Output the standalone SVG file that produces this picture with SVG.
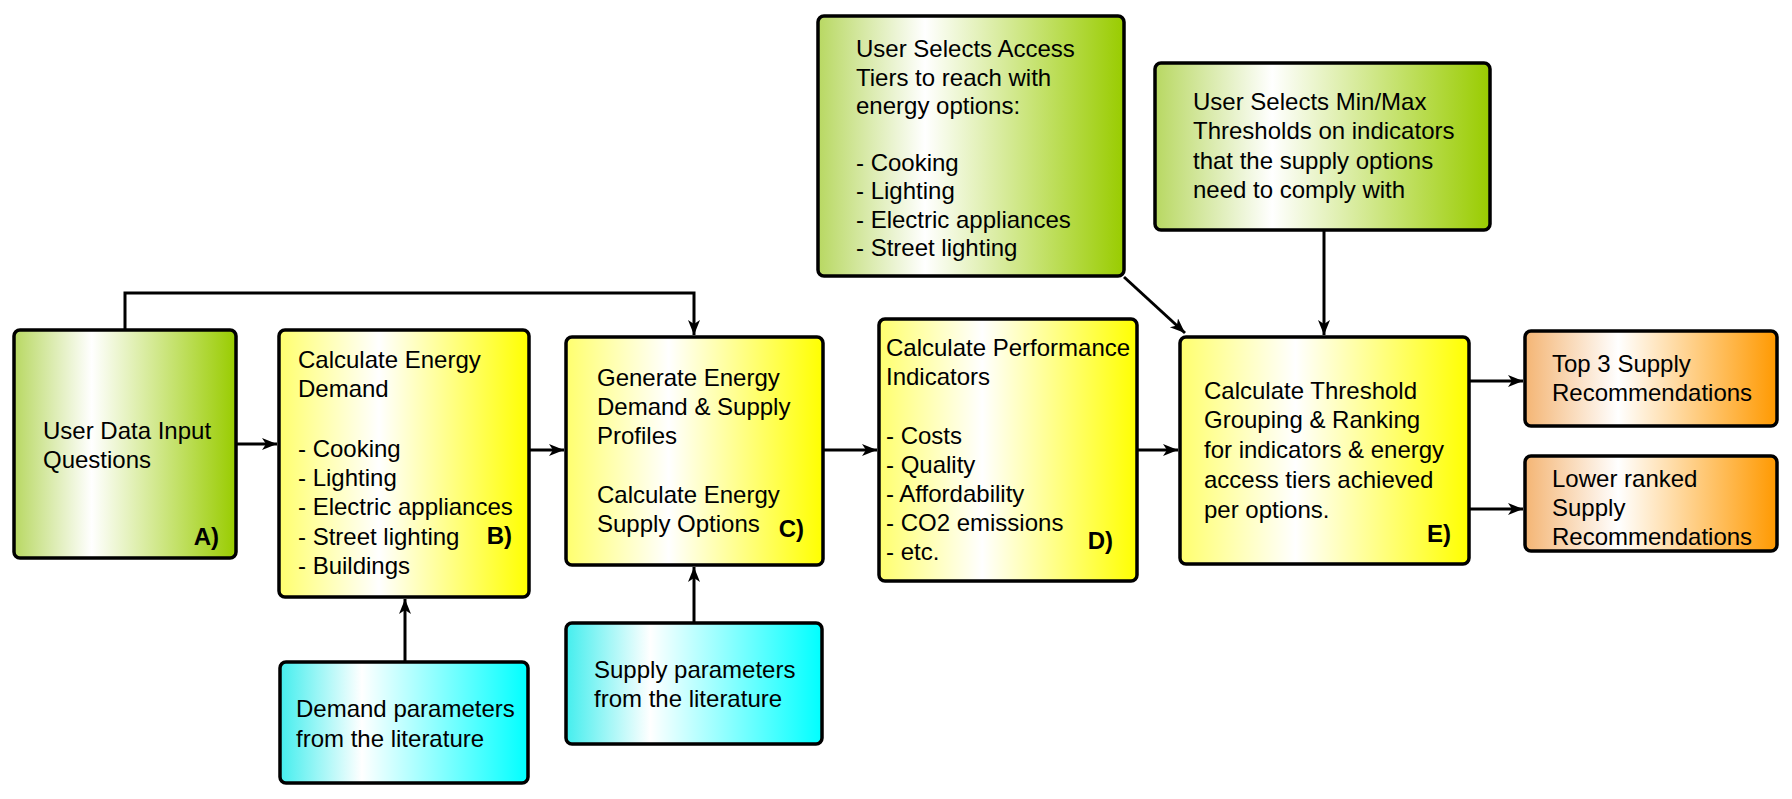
<svg xmlns="http://www.w3.org/2000/svg" width="1792" height="799" viewBox="0 0 1792 799">
<defs>
<linearGradient id="gGreen" x1="0" y1="0" x2="1" y2="0"><stop offset="0" stop-color="#b8d862"/><stop offset="0.35" stop-color="#ffffff"/><stop offset="1" stop-color="#99cc00"/></linearGradient>
<linearGradient id="gYellow" x1="0" y1="0" x2="1" y2="0"><stop offset="0" stop-color="#ffff6e"/><stop offset="0.4" stop-color="#ffffff"/><stop offset="1" stop-color="#ffff00"/></linearGradient>
<linearGradient id="gCyan" x1="0" y1="0" x2="1" y2="0"><stop offset="0" stop-color="#44eeee"/><stop offset="0.33" stop-color="#ffffff"/><stop offset="1" stop-color="#00ffff"/></linearGradient>
<linearGradient id="gOrange" x1="0" y1="0" x2="1" y2="0"><stop offset="0" stop-color="#f4b574"/><stop offset="0.37" stop-color="#ffffff"/><stop offset="1" stop-color="#ff9900"/></linearGradient>
<marker id="arr" markerUnits="userSpaceOnUse" markerWidth="18" markerHeight="14" refX="15" refY="6" orient="auto"><path d="M0,0 L15,6 L0,12 L4,6 z" fill="#000"/></marker>
</defs>
<style>
.box{stroke:#000;stroke-width:3.5}
.t{font-family:"Liberation Sans",Arial,sans-serif;font-size:24px;fill:#000}
.b{font-family:"Liberation Sans",Arial,sans-serif;font-size:24px;font-weight:bold;fill:#000;text-anchor:end}
.c{fill:none;stroke:#000;stroke-width:3;marker-end:url(#arr)}
</style>
<g id="connectors">
<path class="c" d="M125,330 V293 H694 V335"/>
<path class="c" d="M236,444 H277"/>
<path class="c" d="M529,450 H564"/>
<path class="c" d="M823,450 H877"/>
<path class="c" d="M1137,450 H1178"/>
<path class="c" d="M1124,277 L1185,333"/>
<path class="c" d="M1324,230 V335"/>
<path class="c" d="M1469,381 H1523"/>
<path class="c" d="M1469,509 H1523"/>
<path class="c" d="M405,662 V599"/>
<path class="c" d="M694,623 V567"/>
</g>
<g id="nodeA">
<rect class="box" x="14" y="330" width="222" height="228" rx="6" fill="url(#gGreen)"/>
<text class="t" x="43" y="439">User Data Input</text>
<text class="t" x="43" y="468">Questions</text>
<text class="b" x="219" y="545">A)</text>
</g>
<g id="nodeB">
<rect class="box" x="279" y="330" width="250" height="267" rx="6" fill="url(#gYellow)"/>
<text class="t" x="298" y="368">Calculate Energy</text>
<text class="t" x="298" y="397">Demand</text>
<text class="t" x="298" y="457">- Cooking</text>
<text class="t" x="298" y="486">- Lighting</text>
<text class="t" x="298" y="515">- Electric appliances</text>
<text class="t" x="298" y="545">- Street lighting</text>
<text class="t" x="298" y="574">- Buildings</text>
<text class="b" x="512" y="544">B)</text>
</g>
<g id="nodeC">
<rect class="box" x="566" y="337" width="257" height="228" rx="6" fill="url(#gYellow)"/>
<text class="t" x="597" y="386">Generate Energy</text>
<text class="t" x="597" y="415">Demand &amp; Supply</text>
<text class="t" x="597" y="444">Profiles</text>
<text class="t" x="597" y="503">Calculate Energy</text>
<text class="t" x="597" y="532">Supply Options</text>
<text class="b" x="804" y="537">C)</text>
</g>
<g id="nodeD">
<rect class="box" x="879" y="319" width="258" height="262" rx="6" fill="url(#gYellow)"/>
<text class="t" x="886" y="356">Calculate Performance</text>
<text class="t" x="886" y="385">Indicators</text>
<text class="t" x="886" y="444">- Costs</text>
<text class="t" x="886" y="473">- Quality</text>
<text class="t" x="886" y="502">- Affordability</text>
<text class="t" x="886" y="531">- CO2 emissions</text>
<text class="t" x="886" y="560">- etc.</text>
<text class="b" x="1113" y="549">D)</text>
</g>
<g id="nodeE">
<rect class="box" x="1180" y="337" width="289" height="227" rx="6" fill="url(#gYellow)"/>
<text class="t" x="1204" y="399">Calculate Threshold</text>
<text class="t" x="1204" y="428">Grouping &amp; Ranking</text>
<text class="t" x="1204" y="458">for indicators &amp; energy</text>
<text class="t" x="1204" y="488">access tiers achieved</text>
<text class="t" x="1204" y="518">per options.</text>
<text class="b" x="1451" y="542">E)</text>
</g>
<g id="nodeTop3">
<rect class="box" x="1525" y="331" width="252" height="95" rx="6" fill="url(#gOrange)"/>
<text class="t" x="1552" y="372">Top 3 Supply</text>
<text class="t" x="1552" y="401">Recommendations</text>
</g>
<g id="nodeLower">
<rect class="box" x="1525" y="456" width="252" height="95" rx="6" fill="url(#gOrange)"/>
<text class="t" x="1552" y="487">Lower ranked</text>
<text class="t" x="1552" y="516">Supply</text>
<text class="t" x="1552" y="545">Recommendations</text>
</g>
<g id="nodeAccess">
<rect class="box" x="818" y="16" width="306" height="260" rx="6" fill="url(#gGreen)"/>
<text class="t" x="856" y="57">User Selects Access</text>
<text class="t" x="856" y="86">Tiers to reach with</text>
<text class="t" x="856" y="114">energy options:</text>
<text class="t" x="856" y="171">- Cooking</text>
<text class="t" x="856" y="199">- Lighting</text>
<text class="t" x="856" y="228">- Electric appliances</text>
<text class="t" x="856" y="256">- Street lighting</text>
</g>
<g id="nodeMinMax">
<rect class="box" x="1155" y="63" width="335" height="167" rx="6" fill="url(#gGreen)"/>
<text class="t" x="1193" y="110">User Selects Min/Max</text>
<text class="t" x="1193" y="139">Thresholds on indicators</text>
<text class="t" x="1193" y="169">that the supply options</text>
<text class="t" x="1193" y="198">need to comply with</text>
</g>
<g id="nodeDemandParams">
<rect class="box" x="280" y="662" width="248" height="121" rx="6" fill="url(#gCyan)"/>
<text class="t" x="296" y="717">Demand parameters</text>
<text class="t" x="296" y="747">from the literature</text>
</g>
<g id="nodeSupplyParams">
<rect class="box" x="566" y="623" width="256" height="121" rx="6" fill="url(#gCyan)"/>
<text class="t" x="594" y="678">Supply parameters</text>
<text class="t" x="594" y="707">from the literature</text>
</g>
</svg>
